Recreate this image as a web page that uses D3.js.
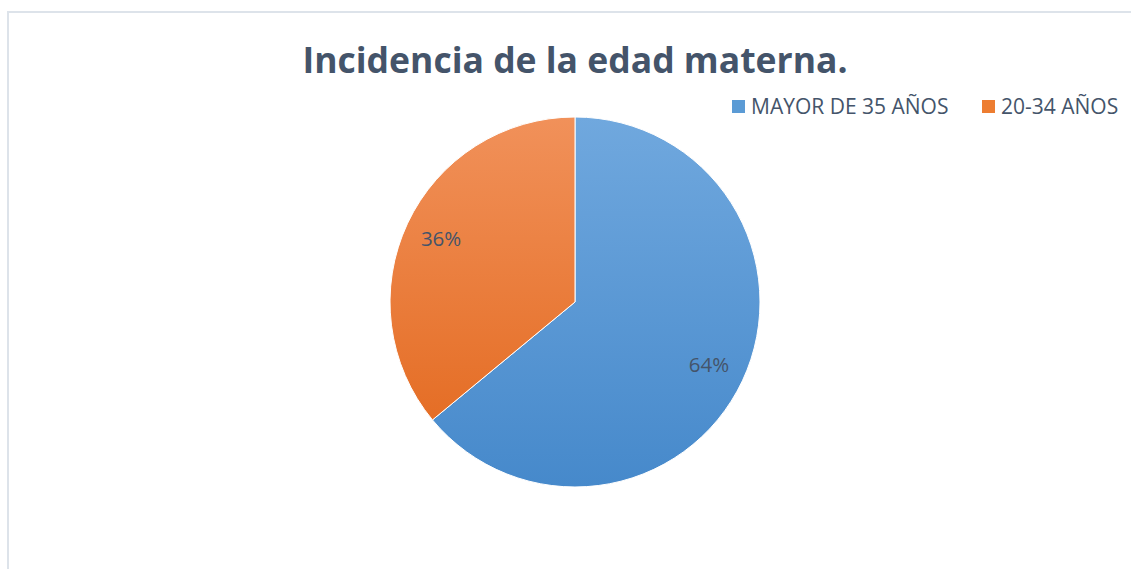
<!DOCTYPE html>
<html>
<head>
<meta charset="utf-8">
<script src="https://cdn.jsdelivr.net/npm/d3@7"></script>
<style>
  body { margin: 0; background: #fff; }
  text { font-family: "Open Sans", sans-serif; }
</style>
</head>
<body>
<div id="chart"></div>
<script>
var categories = ["MAYOR DE 35 AÑOS", "20-34 AÑOS"];
var values = [64, 36];
var labels = ["64%", "36%"];
var colorsTop = ["#70a8de", "#f1915a"];
var colorsBottom = ["#4689cb", "#e2661a"];
var legendColors = ["#5b9bd5", "#ed7d31"];

var width = 1131, height = 569;
var cx = 575, cy = 302, radius = 185;

var svg = d3.select("#chart").append("svg")
    .attr("width", width)
    .attr("height", height);

// chart area border
svg.append("rect")
    .attr("x", 8).attr("y", 12)
    .attr("width", 1140).attr("height", 580)
    .attr("fill", "#fff")
    .attr("stroke", "#dde3ea")
    .attr("stroke-width", 2);

svg.append("text")
    .attr("x", 575).attr("y", 73)
    .attr("text-anchor", "middle")
    .attr("font-size", 35.5)
    .attr("font-weight", "bold")
    .attr("fill", "#44546a")
    .text("Incidencia de la edad materna.");

var defs = svg.append("defs");
categories.forEach(function(c, i) {
  var gr = defs.append("linearGradient")
      .attr("id", "grad" + i)
      .attr("gradientUnits", "userSpaceOnUse")
      .attr("x1", 0).attr("y1", -radius)
      .attr("x2", 0).attr("y2", radius);
  gr.append("stop").attr("offset", "0%").attr("stop-color", colorsTop[i]);
  gr.append("stop").attr("offset", "100%").attr("stop-color", colorsBottom[i]);
});

var pie = d3.pie().sort(null).value(function(d) { return d; });
var arc = d3.arc().innerRadius(0).outerRadius(radius);
var arcs = pie(values);

var g = svg.append("g").attr("transform", "translate(" + cx + "," + cy + ")");

g.selectAll("path")
  .data(arcs)
  .enter().append("path")
    .attr("d", arc)
    .attr("fill", function(d, i) { return "url(#grad" + i + ")"; })
    .attr("stroke", "#fff")
    .attr("stroke-width", 1);

var labelArc = d3.arc().innerRadius(radius * 0.8).outerRadius(radius * 0.8);
g.selectAll(".lbl")
  .data(arcs)
  .enter().append("text")
    .attr("class", "lbl")
    .attr("transform", function(d) { return "translate(" + labelArc.centroid(d) + ")"; })
    .attr("text-anchor", "middle")
    .attr("dy", "0.35em")
    .attr("font-size", 20.5)
    .attr("fill", "#44546a")
    .text(function(d, i) { return labels[i]; });

// legend
var legendX = [732, 982];
var leg = svg.selectAll(".leg")
  .data(categories)
  .enter().append("g")
    .attr("class", "leg")
    .attr("transform", function(d, i) { return "translate(" + legendX[i] + ",100)"; });

leg.append("rect")
    .attr("width", 13).attr("height", 13)
    .attr("fill", function(d, i) { return legendColors[i]; });

leg.append("text")
    .attr("x", 19).attr("y", 14)
    .attr("font-size", 21)
    .attr("fill", "#44546a")
    .text(function(d) { return d; });
</script>
</body>
</html>
